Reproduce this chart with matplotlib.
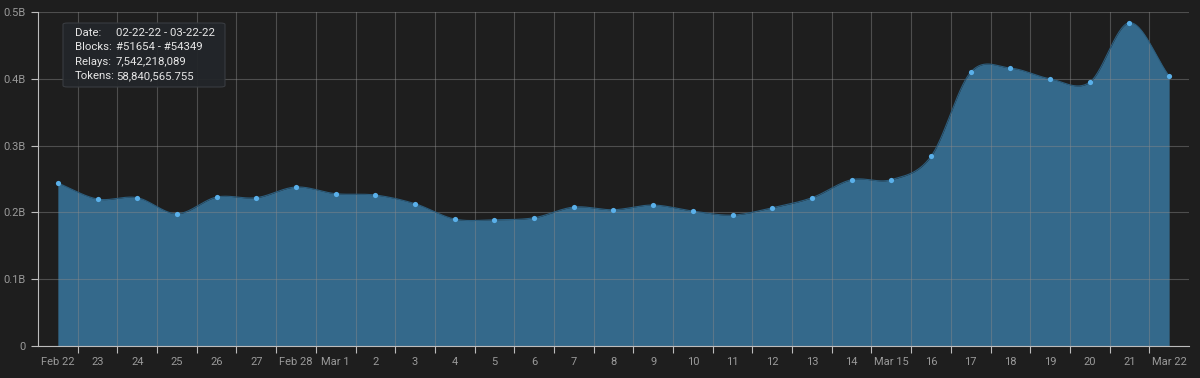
import numpy as np
import matplotlib
matplotlib.use('Agg')
import matplotlib.pyplot as plt
from matplotlib.patches import FancyBboxPatch

plt.rcParams['font.family'] = ['Roboto', 'DejaVu Sans']

# daily tokens, Feb 22 .. Mar 22 (billions)
day_labels = ['Feb 22', '23', '24', '25', '26', '27', 'Feb 28', 'Mar 1', '2', '3',
              '4', '5', '6', '7', '8', '9', '10', '11', '12', '13', '14', 'Mar 15',
              '16', '17', '18', '19', '20', '21', 'Mar 22']
tokens_b = [0.244, 0.220, 0.222, 0.198, 0.223, 0.222, 0.238, 0.228, 0.226, 0.213,
            0.190, 0.189, 0.192, 0.208, 0.204, 0.211, 0.202, 0.196, 0.207, 0.222,
            0.249, 0.249, 0.284, 0.410, 0.416, 0.400, 0.395, 0.484, 0.404]
y_ticks = [0, 0.1, 0.2, 0.3, 0.4, 0.5]
y_labels = ['0', '0.1B', '0.2B', '0.3B', '0.4B', '0.5B']
tooltip_keys = ['Date:', 'Blocks:', 'Relays:', 'Tokens:']
tooltip_vals = ['02-22-22 - 03-22-22', '#51654 - #54349', '7,542,218,089', '58,840,565.755']

BG = '#1e1e1e'
FILL = '#34698b'
DOT = '#5ab0ea'
TXT = '#9a9a9a'


def catmull_rom(x, y, n=30):
    # smooth curve through the points, like a cardinal spline
    x = np.asarray(x, float)
    y = np.asarray(y, float)
    px = np.concatenate([[2 * x[0] - x[1]], x, [2 * x[-1] - x[-2]]])
    py = np.concatenate([[2 * y[0] - y[1]], y, [2 * y[-1] - y[-2]]])
    xs, ys = [], []
    t = np.linspace(0, 1, n, endpoint=False)
    for i in range(1, len(px) - 2):
        for p, out in ((px, xs), (py, ys)):
            p0, p1, p2, p3 = p[i - 1], p[i], p[i + 1], p[i + 2]
            m1 = (p2 - p0) / 2
            m2 = (p3 - p1) / 2
            h00 = 2 * t**3 - 3 * t**2 + 1
            h10 = t**3 - 2 * t**2 + t
            h01 = -2 * t**3 + 3 * t**2
            h11 = t**3 - t**2
            out.extend(h00 * p1 + h10 * m1 + h01 * p2 + h11 * m2)
    xs.append(x[-1])
    ys.append(y[-1])
    return np.array(xs), np.array(ys)


x = np.arange(len(tokens_b))
sx, sy = catmull_rom(x, tokens_b)

fig = plt.figure(figsize=(12, 3.78), dpi=100, facecolor=BG)
ax = fig.add_axes([38 / 1200, 32 / 378, 1151 / 1200, 334 / 378], facecolor=BG)

ax.fill_between(sx, 0, sy, color=FILL, lw=0, zorder=2)
ax.plot(sx, sy, color='#2c5d7d', lw=0.8, zorder=3)
ax.scatter(x, tokens_b, s=14, color=DOT, zorder=4, lw=0)

ax.set_xlim(-0.5, len(tokens_b) - 0.5)
ax.set_ylim(0, 0.5)

# grid at day boundaries, labels at day centres
ax.set_xticks(np.arange(0.5, len(tokens_b) - 1, 1))
ax.set_xticklabels([])
ax.set_xticks(x, minor=True)
ax.set_xticklabels(day_labels, minor=True)
ax.tick_params(axis='x', which='major', length=5, color='#bdbdbd', width=0.8)
ax.tick_params(axis='x', which='minor', length=0, pad=8, labelsize=8, labelcolor=TXT)
ax.set_yticks(y_ticks)
ax.set_yticklabels(y_labels)
ax.tick_params(axis='y', length=5, color='#bdbdbd', width=0.8, labelsize=8,
               labelcolor=TXT, pad=4)

ax.grid(True, which='major', color='#8a8a8a', alpha=0.45, lw=0.8, zorder=5)
ax.set_axisbelow(False)
for s in ('top', 'right'):
    ax.spines[s].set_visible(False)
for s in ('left', 'bottom'):
    ax.spines[s].set_color('#bdbdbd')
    ax.spines[s].set_linewidth(0.8)
    ax.spines[s].set_zorder(6)

# summary tooltip box
box = FancyBboxPatch((63 / 1200, 1 - 87 / 378), 162 / 1200, 64 / 378,
                     boxstyle='round,pad=0,rounding_size=0.004',
                     transform=fig.transFigure, facecolor='#23262a',
                     edgecolor='#3a3d42', lw=0.8, alpha=0.95, zorder=10)
fig.patches.append(box)
for i, (k, v) in enumerate(zip(tooltip_keys, tooltip_vals)):
    yy = 1 - (33 + i * 14.3) / 378
    fig.text(75 / 1200, yy, k, color='#e6e6e6', fontsize=8.2, va='center', zorder=11)
    fig.text(116 / 1200, yy, v, color='#e6e6e6', fontsize=8.2, va='center', zorder=11)

fig.savefig('out.png', dpi=100, facecolor=BG)
